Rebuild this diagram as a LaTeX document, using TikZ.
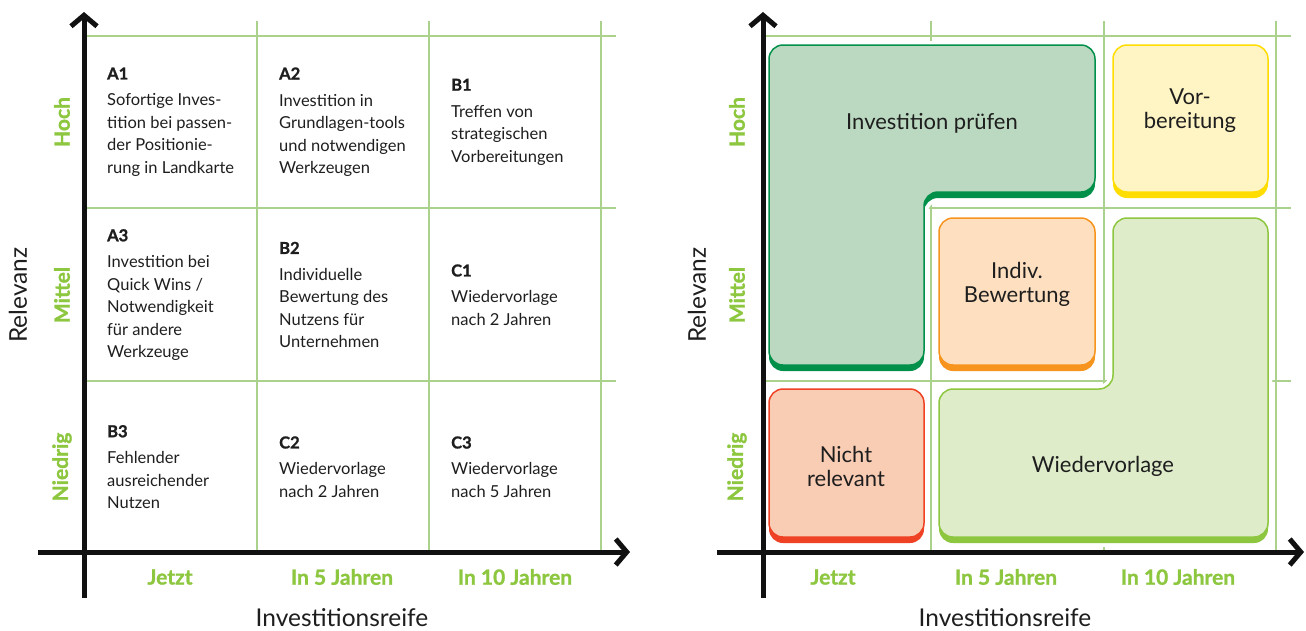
\documentclass[tikz,border=0pt]{standalone}
\usepackage{fontspec}
\setmainfont{Lato}
\newfontfamily\heavyfont{Lato}[BoldFeatures={FakeBold=1.2}]
\usetikzlibrary{arrows.meta}

\definecolor{gridgreen}{HTML}{AAD28C}
\definecolor{labelgreen}{HTML}{8DC63F}
\definecolor{axisblack}{HTML}{111111}
\definecolor{inkblack}{HTML}{1E1E1E}
\definecolor{pruefFill}{HTML}{BBD9C0}
\definecolor{pruefLine}{HTML}{00904A}
\definecolor{vorbFill}{HTML}{FFF4C4}
\definecolor{vorbLine}{HTML}{FFDD00}
\definecolor{indivFill}{HTML}{FEE0C0}
\definecolor{indivLine}{HTML}{F7941D}
\definecolor{nichtFill}{HTML}{F9CCB4}
\definecolor{nichtLine}{HTML}{EF4123}
\definecolor{wiederFill}{HTML}{DEECCA}
\definecolor{wiederLine}{HTML}{8DC63F}

\newcommand\cellhead[1]{{\heavyfont\bfseries #1}}

\tikzset{
  axisline/.style={line width=5pt, draw=axisblack,
    -{Straight Barb[length=11pt,width=26pt]}},
  gridline/.style={draw=gridgreen, line width=1.5pt},
  celltext/.style={anchor=west, align=left, inner sep=0pt, text=inkblack,
    font=\fontsize{16.5}{22.5}\selectfont},
  rowlabel/.style={rotate=90, text=labelgreen, inner sep=0pt,
    font=\fontsize{21}{22}\selectfont\heavyfont\bfseries},
  collabel/.style={text=labelgreen, inner sep=0pt,
    font=\fontsize{21}{22}\selectfont\heavyfont\bfseries},
  axistitle/.style={text=inkblack, inner sep=0pt,
    font=\fontsize{24.5}{26}\selectfont},
  tiletext/.style={text=inkblack, align=center, inner sep=0pt,
    font=\fontsize{22}{24}\selectfont},
}

% A rounded tile with a drop band in its border colour and a white halo
\newcommand\tile[3]{%
  \draw[white, line width=8pt, rounded corners=14pt] #1;
  \draw[white, line width=8pt, rounded corners=14pt, yshift=-6pt] #1;
  \fill[#3, rounded corners=14pt, yshift=-6pt] #1;
  \draw[fill=#2, draw=#3, line width=1.5pt, rounded corners=14pt] #1;
}

\begin{document}
\begin{tikzpicture}[x=1pt,y=-1pt]
\useasboundingbox (0,0) rectangle (1306,630);

% ---------------- left matrix ----------------
\foreach \gx in {257,429,601} \draw[gridline] (\gx,21) -- (\gx,552);
\foreach \gy in {36,208,381} \draw[gridline] (84,\gy) -- (616,\gy);

\coordinate (La-bottom) at (84,598);
\coordinate (La-top) at (84,12);
\coordinate (La-left) at (38,552);
\coordinate (La-right) at (630,552);
\draw[axisline] (La-bottom) -- (La-top);
\draw[axisline] (La-left) -- (La-right);

\node[celltext] (a1) at (107,122) {\cellhead{A1}\\[4pt]Sofortige Inves-\\tition bei passen-\\der Positionie-\\rung in Landkarte};
\node[celltext] (a2) at (279,122) {\cellhead{A2}\\[4pt]Investition in\\Grundlagen-tools\\und notwendigen\\Werkzeugen};
\node[celltext] (b1) at (451,122) {\cellhead{B1}\\[4pt]Treffen von\\strategischen\\Vorbereitungen};
\node[celltext] (a3) at (107,295) {\cellhead{A3}\\[4pt]Investition bei\\Quick Wins /\\Notwendigkeit\\für andere\\Werkzeuge};
\node[celltext] (b2) at (279,295) {\cellhead{B2}\\[4pt]Individuelle\\Bewertung des\\Nutzens für\\Unternehmen};
\node[celltext] (c1) at (451,295) {\cellhead{C1}\\[4pt]Wiedervorlage\\nach 2 Jahren};
\node[celltext] (b3) at (107,467) {\cellhead{B3}\\[4pt]Fehlender\\ausreichender\\Nutzen};
\node[celltext] (c2) at (279,467) {\cellhead{C2}\\[4pt]Wiedervorlage\\nach 2 Jahren};
\node[celltext] (c3) at (451,467) {\cellhead{C3}\\[4pt]Wiedervorlage\\nach 5 Jahren};

\node[rowlabel] (L-hoch) at (62,122) {Hoch};
\node[rowlabel] (L-mittel) at (62,295) {Mittel};
\node[rowlabel] (L-niedrig) at (62,467) {Niedrig};
\node[collabel] (L-jetzt) at (170,577) {Jetzt};
\node[collabel] (L-fuenf) at (342,577) {In 5 Jahren};
\node[collabel] (L-zehn) at (515,577) {In 10 Jahren};
\node[axistitle, rotate=90] (L-relevanz) at (18,295) {Relevanz};
\node[axistitle] (L-reife) at (342,618) {Investitionsreife};

% ---------------- right matrix ----------------
\foreach \gx in {931,1104,1276} \draw[gridline] (\gx,21) -- (\gx,552);
\foreach \gy in {36,208,381} \draw[gridline] (763,\gy) -- (1291,\gy);

\tile{(769,45) -- (1095,45) -- (1095,192) -- (924,192) -- (924,365) -- (769,365) -- cycle}{pruefFill}{pruefLine}
\tile{(1113,45) -- (1268,45) -- (1268,192) -- (1113,192) -- cycle}{vorbFill}{vorbLine}
\tile{(939,218) -- (1095,218) -- (1095,365) -- (939,365) -- cycle}{indivFill}{indivLine}
\tile{(769,389) -- (924,389) -- (924,537) -- (769,537) -- cycle}{nichtFill}{nichtLine}
\tile{(1113,218) -- (1268,218) -- (1268,537) -- (939,537) -- (939,389) -- (1113,389) -- cycle}{wiederFill}{wiederLine}

\node[tiletext] (pruefen) at (932,123) {Investition prüfen};
\node[tiletext] (vorb) at (1190,111) {Vor-\\bereitung};
\node[tiletext] (indiv) at (1017,284) {Indiv.\\Bewertung};
\node[tiletext] (nicht) at (846,466) {Nicht\\relevant};
\node[tiletext] (wieder) at (1103,466) {Wiedervorlage};

\coordinate (Ra-bottom) at (763,598);
\coordinate (Ra-top) at (763,12);
\coordinate (Ra-left) at (717,552);
\coordinate (Ra-right) at (1304,552);
\draw[axisline] (Ra-bottom) -- (Ra-top);
\draw[axisline] (Ra-left) -- (Ra-right);

\node[rowlabel] (R-hoch) at (737,122) {Hoch};
\node[rowlabel] (R-mittel) at (737,295) {Mittel};
\node[rowlabel] (R-niedrig) at (737,467) {Niedrig};
\node[collabel] (R-jetzt) at (833,577) {Jetzt};
\node[collabel] (R-fuenf) at (1006,577) {In 5 Jahren};
\node[collabel] (R-zehn) at (1178,577) {In 10 Jahren};
\node[axistitle, rotate=90] (R-relevanz) at (697,295) {Relevanz};
\node[axistitle] (R-reife) at (1005,618) {Investitionsreife};
\end{tikzpicture}
\end{document}
